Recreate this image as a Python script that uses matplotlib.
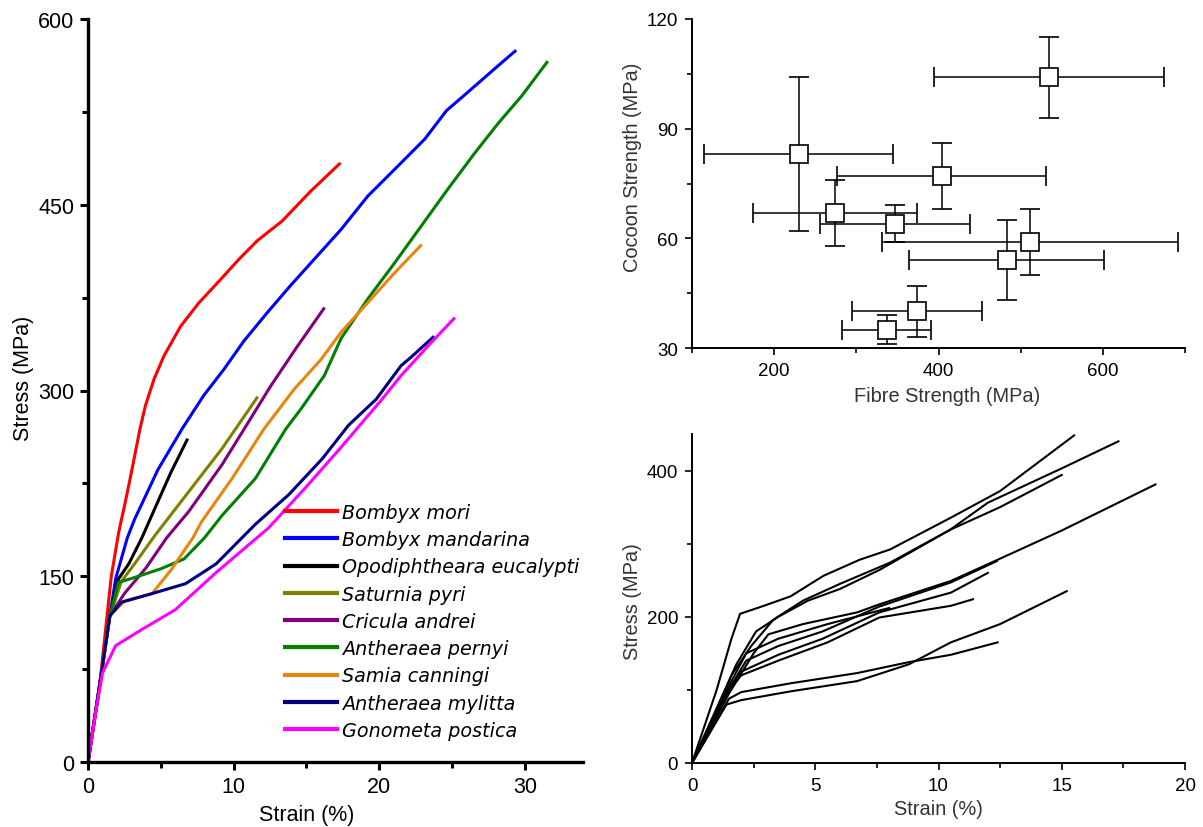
import matplotlib
matplotlib.use('Agg')
from matplotlib import pyplot as plt
from matplotlib.ticker import MultipleLocator

plt.rcParams['font.family'] = ['Liberation Sans', 'DejaVu Sans']

# ---- left panel: stress-strain curves of nine silks (strain %, stress MPa)
species = ['Bombyx mori', 'Bombyx mandarina', 'Opodiphtheara eucalypti', 'Saturnia pyri',
           'Cricula andrei', 'Antheraea pernyi', 'Samia canningi', 'Antheraea mylitta',
           'Gonometa postica']
colors = ['#ff0000', '#0000ff', '#000000', '#808000', '#800080',
          '#008000', '#e8850e', '#000080', '#ff00ff']

mori_x = [0, 0.8, 1.6, 2.1, 2.6, 3.0, 3.57, 3.95, 4.53, 5.22, 6.37, 7.63, 8.9, 10.37,
          11.63, 13.35, 15.3, 17.27]
mori_y = [0, 62, 150, 185, 212, 235, 269, 288, 309, 328, 352, 371, 387, 406,
          421, 437, 461, 483]
mand_x = [0, 0.8, 1.5, 1.9, 2.7, 3.2, 4.8, 6.46, 7.95, 9.33, 10.71, 12.32, 13.93, 15.77,
          17.38, 19.22, 21.52, 23.13, 24.62, 26.1, 27.95, 29.33]
mand_y = [0, 62, 118, 148, 181, 196, 236, 269, 296, 317, 340, 363, 385, 409,
          430, 457, 484, 503, 526, 541, 560, 574]
opod_x = [0, 0.8, 1.5, 2.1, 2.8, 3.7, 4.6, 5.7, 6.8]
opod_y = [0, 62, 118, 148, 160, 181, 205, 234, 260]
satu_x = [0, 0.8, 1.5, 2.3, 3.2, 4.6, 6.9, 9.2, 11.6]
satu_y = [0, 62, 118, 146, 160, 183, 218, 253, 294]
cric_x = [0, 0.8, 1.5, 2.5, 4.0, 5.4, 6.9, 9.2, 10.73, 12.57, 14.4, 16.19]
cric_y = [0, 62, 118, 136, 157, 181, 202, 240, 269, 304, 336, 366]
pern_x = [0, 0.8, 1.5, 2.1, 3.2, 5.0, 6.6, 8.0, 9.2, 11.5, 13.59, 14.62, 16.23, 17.38,
          19.22, 21.06, 22.9, 24.74, 26.58, 28.19, 29.8, 31.52]
pern_y = [0, 62, 118, 145, 149, 156, 164, 181, 199, 229, 269, 285, 312, 342,
          374, 403, 433, 463, 492, 516, 538, 565]
samia_x = [0, 0.8, 1.5, 2.5, 4.4, 5.7, 7.2, 7.8, 9.9, 12.09, 14.16, 16.0, 17.38,
           19.22, 21.06, 22.85]
samia_y = [0, 62, 118, 130, 136, 155, 181, 194, 229, 269, 301, 325, 347,
           371, 395, 417]
myli_x = [0, 0.8, 1.5, 2.3, 4.4, 6.7, 8.8, 11.5, 13.8, 16.1, 17.9, 19.8, 21.5, 22.2, 23.7]
myli_y = [0, 62, 118, 129, 136, 144, 160, 192, 216, 245, 272, 293, 320, 327, 343]
gono_x = [0, 0.6, 1.0, 1.9, 3.7, 6.0, 8.8, 12.4, 14.9, 17.3, 20.2, 21.5, 23.36, 25.13]
gono_y = [0, 45, 72, 94, 107, 123, 153, 189, 221, 253, 293, 312, 336, 358]

curves_x = [mori_x, mand_x, opod_x, satu_x, cric_x, pern_x, samia_x, myli_x, gono_x]
curves_y = [mori_y, mand_y, opod_y, satu_y, cric_y, pern_y, samia_y, myli_y, gono_y]

# ---- top right: cocoon strength vs fibre strength (MPa)
fibre = [534, 230, 404, 274, 347, 511, 483, 374, 337]
fibre_err = [140, 115, 127, 100, 91, 180, 119, 79, 54]
cocoon = [104, 83, 77, 67, 64, 59, 54, 40, 35]
cocoon_err = [11, 21, 9, 9, 5, 9, 11, 7, 4]

# ---- bottom right: individual fibre tests (strain %, stress MPa)
test_x = [
    [0, 1.0, 1.6, 1.95, 3.0, 4.0, 5.33, 6.8, 8.03, 10.47, 12.5, 15.5],
    [0, 1.0, 1.6, 2.4, 3.3, 4.5, 6.0, 8.03, 10.47, 12.0, 15, 17.3],
    [0, 1.0, 1.8, 2.6, 3.5, 4.7, 6.0, 7.6, 10.47, 12.5, 15],
    [0, 1.5, 2.5, 3.1, 4.5, 6.7, 7.6, 10.5, 12.4, 15, 18.8],
    [0, 1.3, 2.2, 3.5, 5.3, 7.6, 10.5, 12.36],
    [0, 1.3, 2.0, 3.5, 5.3, 7.6, 10.5, 12.0],
    [0, 1.4, 2.0, 3.5, 5.5, 7.6, 10.5, 11.4],
    [0, 1.1, 2.2, 3.5, 5.5, 8.0],
    [0, 1.4, 2.0, 4.0, 6.7, 8.8, 10.5, 12.5, 15.2],
    [0, 1.5, 2.0, 4.0, 6.7, 8.8, 10.5, 12.4],
]
test_y = [
    [0, 100, 170, 204, 216, 228, 256, 278, 292, 335, 372, 448],
    [0, 70, 120, 160, 196, 222, 245, 274, 319, 356, 403, 440],
    [0, 75, 135, 180, 200, 222, 238, 264, 319, 350, 394],
    [0, 95, 150, 176, 190, 206, 217, 249, 278, 318, 381],
    [0, 90, 140, 160, 180, 214, 247, 276],
    [0, 88, 125, 148, 170, 206, 233, 260],
    [0, 95, 120, 140, 165, 199, 215, 224],
    [0, 80, 150, 170, 190, 212],
    [0, 80, 86, 98, 112, 135, 165, 190, 235],
    [0, 88, 97, 109, 123, 138, 148, 165],
]

fig = plt.figure(figsize=(12.03, 8.28), dpi=100)

# left
ax = fig.add_axes([88 / 1203, 65 / 828, 495 / 1203, 743 / 828])
for xs, ys, c, name in zip(curves_x, curves_y, colors, species):
    ax.plot(xs, ys, color=c, lw=2.2, label=name)
ax.set_xlim(0, 34)
ax.set_ylim(0, 600)
ax.xaxis.set_major_locator(MultipleLocator(10))
ax.xaxis.set_minor_locator(MultipleLocator(5))
ax.yaxis.set_major_locator(MultipleLocator(150))
ax.yaxis.set_minor_locator(MultipleLocator(75))
for s in ['top', 'right']:
    ax.spines[s].set_visible(False)
for s in ['left', 'bottom']:
    ax.spines[s].set_linewidth(2.4)
ax.tick_params(which='major', length=6, width=2.2, labelsize=15.5, pad=4)
ax.tick_params(which='minor', length=4, width=2.2)
ax.set_xlabel('Strain (%)', fontsize=15.5)
ax.xaxis.set_label_coords(0.442, -0.057)
ax.set_ylabel('Stress (MPa)', fontsize=15.5)
ax.yaxis.set_label_coords(-0.109, 0.518)
leg = ax.legend(loc='upper left', bbox_to_anchor=(0.363, 0.372), frameon=False,
                handlelength=2.7, handletextpad=0.3, labelspacing=0.43,
                prop={'family': 'DejaVu Sans', 'style': 'italic', 'size': 13.8})
for h in leg.legend_handles:
    h.set_linewidth(3)

# top right
ax2 = fig.add_axes([692 / 1203, 1 - 349 / 828, 493 / 1203, 329 / 828])
ax2.errorbar(fibre, cocoon, xerr=fibre_err, yerr=cocoon_err, fmt='s', ms=13,
             mfc='white', mec='black', mew=1.2, ecolor='black', elinewidth=1.1,
             capsize=7, capthick=1.1)
ax2.set_xlim(100, 700)
ax2.set_ylim(30, 120)
ax2.xaxis.set_major_locator(MultipleLocator(200))
ax2.xaxis.set_minor_locator(MultipleLocator(100))
ax2.yaxis.set_major_locator(MultipleLocator(30))
ax2.yaxis.set_minor_locator(MultipleLocator(15))
ax2.set_xlabel('Fibre Strength (MPa)', fontsize=14.4, color='#333333')
ax2.xaxis.set_label_coords(0.517, -0.115)
ax2.set_ylabel('Cocoon Strength (MPa)', fontsize=14.4, color='#333333')
ax2.yaxis.set_label_coords(-0.101, 0.553)

# bottom right
ax3 = fig.add_axes([692 / 1203, 1 - 764 / 828, 493 / 1203, 329 / 828])
for xs, ys in zip(test_x, test_y):
    ax3.plot(xs, ys, color='black', lw=1.5)
ax3.set_xlim(0, 20)
ax3.set_ylim(0, 450)
ax3.xaxis.set_major_locator(MultipleLocator(5))
ax3.xaxis.set_minor_locator(MultipleLocator(2.5))
ax3.yaxis.set_major_locator(MultipleLocator(200))
ax3.yaxis.set_minor_locator(MultipleLocator(100))
ax3.set_xlabel('Strain (%)', fontsize=14.4, color='#333333')
ax3.xaxis.set_label_coords(0.5, -0.11)
ax3.set_ylabel('Stress (MPa)', fontsize=14.4, color='#333333')
ax3.yaxis.set_label_coords(-0.101, 0.495)

for a in [ax2, ax3]:
    for s in ['top', 'right']:
        a.spines[s].set_visible(False)
    for s in ['left', 'bottom']:
        a.spines[s].set_linewidth(1.4)
    a.tick_params(which='major', length=5, width=1.2, labelsize=13.5, pad=5)
    a.tick_params(which='minor', length=3.5, width=1.2)

fig.savefig('out.png', dpi=100)
